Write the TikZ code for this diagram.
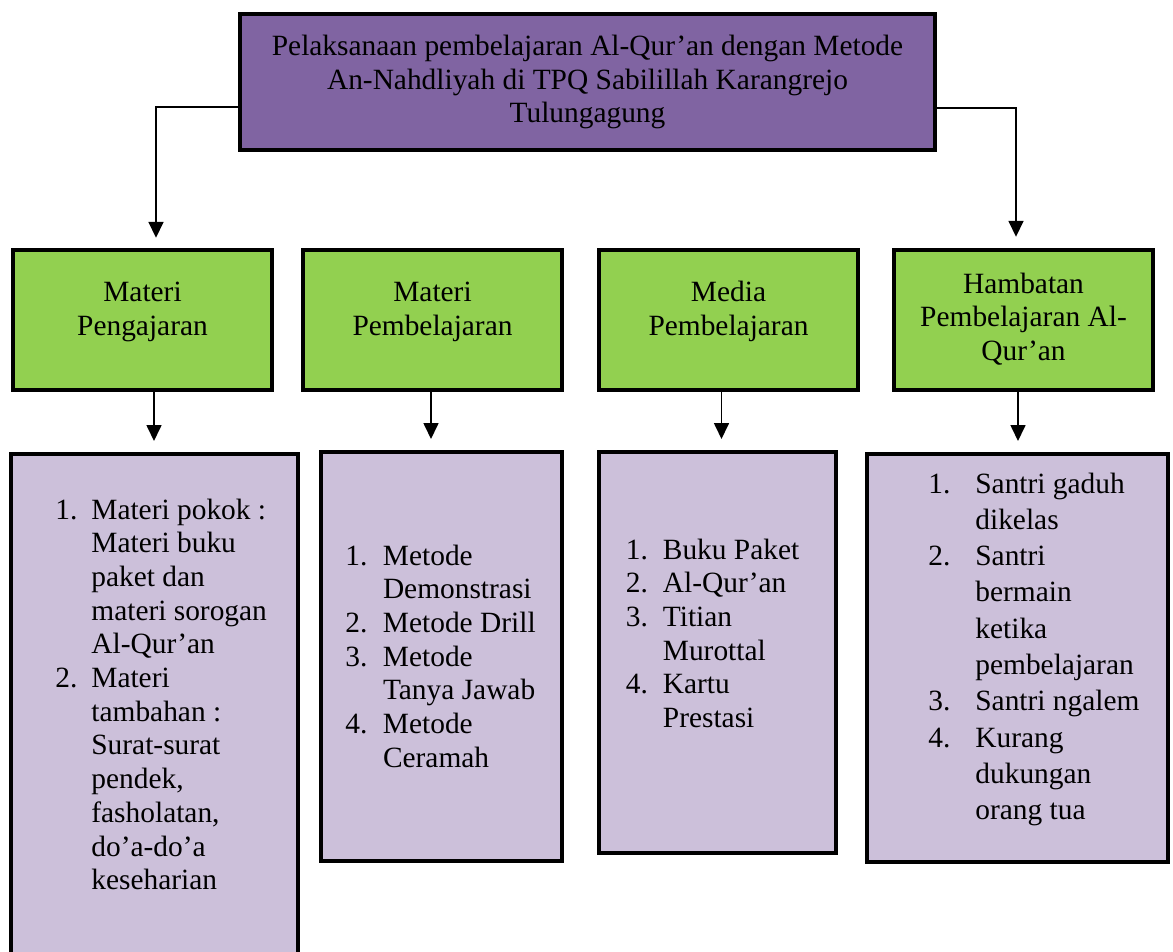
\documentclass[tikz,border=0pt]{standalone}
\usepackage{fontspec}
\setmainfont{Liberation Serif}
\usetikzlibrary{positioning}
\usetikzlibrary{arrows.meta}
\definecolor{ungu}{HTML}{8064A2}
\definecolor{hijau}{HTML}{92D050}
\definecolor{lila}{HTML}{CCC0DA}

\begin{document}
\begin{tikzpicture}[x=0.5pt,y=-0.5pt]
      \tikzset{tblock/.style={draw, line width=2.2pt, fill=ungu, align=center,
        font=\fontsize{14.7}{16.85}\selectfont, minimum width=347.3pt, minimum height=67.8pt}};
      \tikzset{gblock/.style={draw, line width=2.2pt, fill=hijau,
        minimum width=129.3pt, minimum height=70pt}};
      \tikzset{lblock/.style={draw, line width=2.2pt, fill=lila}};
      \tikzset{gtext/.style={align=center, inner sep=0pt, font=\fontsize{14.7}{16.85}\selectfont}};
      \tikzset{ltext/.style={inner sep=0pt, anchor=base west, font=\fontsize{14.7}{16.85}\selectfont}};
      \tikzset{panah/.style={line width=0.85pt, -{Triangle[length=8pt,width=7.5pt]}}};
      \useasboundingbox (0,0) rectangle (1173,952);

      % kotak judul
      \node[tblock](judul) at (587.5,82){Pelaksanaan pembelajaran Al-Qur’an dengan Metode\\
        An-Nahdliyah di TPQ Sabilillah Karangrejo\\Tulungagung};

      % kotak hijau
      \node[gblock](matP) at (142.5,320){};
      \node[gblock, right=13.5pt of matP](matB){};
      \node[gblock, right=16.5pt of matB](medP){};
      \node[gblock, right=16pt of medP](hamP){};
      \node[gtext, below=17pt of matP.north](labP){Materi\\Pengajaran};
      \node[gtext, below=17pt of matB.north](labB){Materi\\Pembelajaran};
      \node[gtext, below=16.7pt of medP.north](labM){Media\\Pembelajaran};
      \node[gtext, below=12.2pt of hamP.north](labH){Hambatan\\Pembelajaran Al-\\Qur’an};

      % kotak isi
      \node[lblock, minimum width=143.3pt, minimum height=271.8pt](detP) at (154.5,726){};
      \node[lblock, minimum width=120.3pt, minimum height=204.3pt](detB) at (441.5,656.5){};
      \node[lblock, minimum width=118.3pt, minimum height=200.3pt](detM) at (717.5,652.5){};
      \node[lblock, minimum width=150.3pt, minimum height=203.8pt](detH) at (1017.5,658){};

      \node[ltext](isiP) at (55,519){\begin{tabular}[t]{@{}p{18pt}@{}l@{}}
        1. & Materi pokok :\\ & Materi buku\\ & paket dan\\ & materi sorogan\\ & Al-Qur’an\\
        2. & Materi\\ & tambahan :\\ & Surat-surat\\ & pendek,\\ & fasholatan,\\ & do’a-do’a\\ & keseharian
      \end{tabular}};
      \node[ltext](isiB) at (345,565){\begin{tabular}[t]{@{}p{18.8pt}@{}l@{}}
        1. & Metode\\ & Demonstrasi\\ 2. & Metode Drill\\ 3. & Metode\\ & Tanya Jawab\\
        4. & Metode\\ & Ceramah
      \end{tabular}};
      \node[ltext](isiM) at (625.5,559){\begin{tabular}[t]{@{}p{18.5pt}@{}l@{}}
        1. & Buku Paket\\ 2. & Al-Qur’an\\ 3. & Titian\\ & Murottal\\ 4. & Kartu\\ & Prestasi
      \end{tabular}};
      \node[ltext](isiH) at (928,493){\renewcommand{\arraystretch}{1.077}%
        \begin{tabular}[t]{@{}p{23.5pt}@{}l@{}}
        1. & Santri gaduh\\ & dikelas\\ 2. & Santri\\ & bermain\\ & ketika\\ & pembelajaran\\
        3. & Santri ngalem\\ 4. & Kurang\\ & dukungan\\ & orang tua
      \end{tabular}};

      % panah dari judul
      \coordinate (kiri) at ([xshift=6.75pt]matP.north);
      \coordinate (kanan) at ([xshift=-3.75pt]hamP.north);
      \draw[panah, shorten >=5pt] ([yshift=-12.5pt]judul.west) -| (kiri);
      \draw[panah, shorten >=5.5pt] ([yshift=-13pt]judul.east) -| (kanan);

      % panah ke kotak isi
      \coordinate (aP) at ([xshift=5.75pt]matP.south);
      \coordinate (aB) at ([xshift=-0.75pt]matB.south);
      \coordinate (aM) at ([xshift=-3.5pt]medP.south);
      \coordinate (aH) at ([xshift=-2.75pt]hamP.south);
      \draw[panah, shorten >=5.5pt] (aP) -- (aP |- detP.north);
      \draw[panah, shorten >=5.5pt] (aB) -- (aB |- detB.north);
      \draw[panah, shorten >=5.5pt] (aM) -- (aM |- detM.north);
      \draw[panah, shorten >=5.5pt] (aH) -- (aH |- detH.north);
\end{tikzpicture}
\end{document}
